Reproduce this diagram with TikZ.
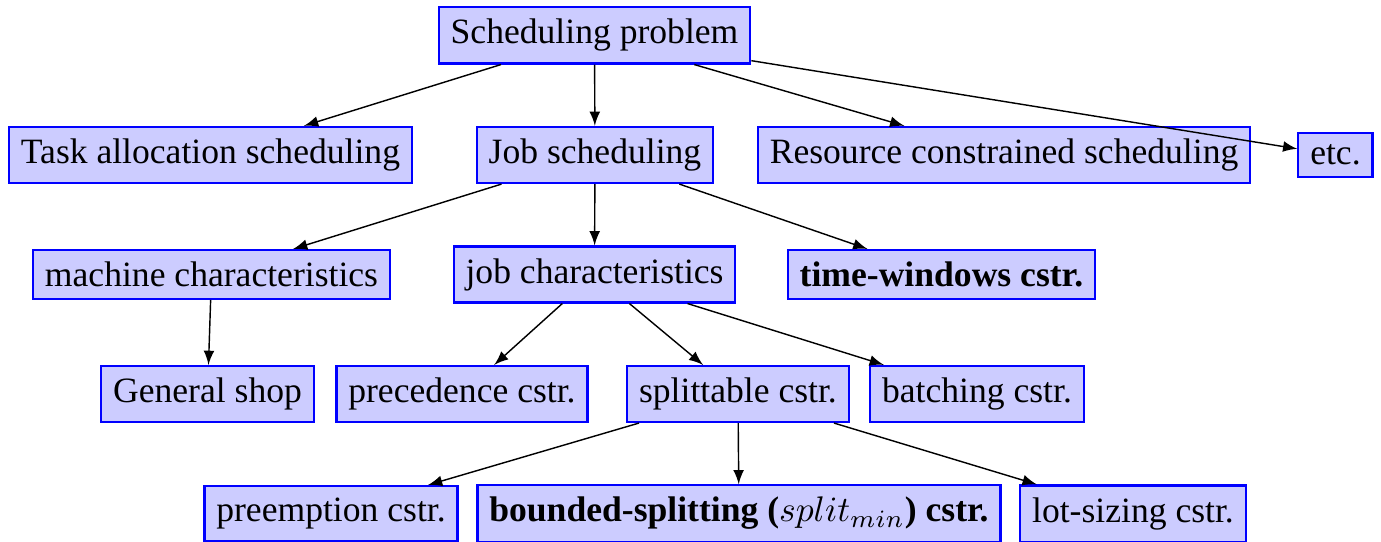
\documentclass[tikz,border=0pt]{standalone}
\usepackage{fontspec}
\setmainfont{Liberation Serif}
\usetikzlibrary{arrows.meta}

\begin{document}
\begin{tikzpicture}[>=latex,
    box/.style={draw=blue, semithick, fill=blue!20}]
      \useasboundingbox (0,0) rectangle (13.635,-5.351);

      % root
      \node[box] (sched) at (5.87,-0.35) {Scheduling problem};

      % first level
      \node[box] (task) at (2.078,-1.53) {Task allocation scheduling};
      \node[box] (job) at (5.874,-1.53) {Job scheduling};
      \node[box] (res) at (9.913,-1.53) {Resource constrained scheduling};
      \node[box] (etc) at (13.185,-1.53) {etc.};

      % job scheduling
      \node[box] (mach) at (2.088,-2.71) {machine characteristics};
      \node[box] (jobc) at (5.87,-2.71) {job characteristics};
      \node[box] (tw) at (9.295,-2.71) {\textbf{time-windows cstr.}};

      \node[box] (gen) at (2.049,-3.89) {General shop};
      \node[box] (prec) at (4.561,-3.89) {precedence cstr.};
      \node[box] (split) at (7.286,-3.89) {splittable cstr.};
      \node[box] (batch) at (9.646,-3.89) {batching cstr.};

      \node[box] (pre) at (3.268,-5.07) {preemption cstr.};
      \node[box] (bound) at (7.296,-5.07) {\textbf{bounded-splitting ($split_{min}$) cstr.}};
      \node[box] (lot) at (11.186,-5.07) {lot-sizing cstr.};

      \draw[->] (sched) -- (task);
      \draw[->] (sched) -- (job);
      \draw[->] (sched) -- (res);
      \draw[->] (sched) -- (etc);

      \draw[->] (job) -- (mach);
      \draw[->] (job) -- (jobc);
      \draw[->] (job) -- (tw);

      \draw[->] (mach) -- (gen);
      \draw[->] (jobc) -- (prec);
      \draw[->] (jobc) -- (split);
      \draw[->] (jobc) -- (batch);

      \draw[->] (split) -- (pre);
      \draw[->] (split) -- (bound);
      \draw[->] (split) -- (lot);
\end{tikzpicture}
\end{document}
